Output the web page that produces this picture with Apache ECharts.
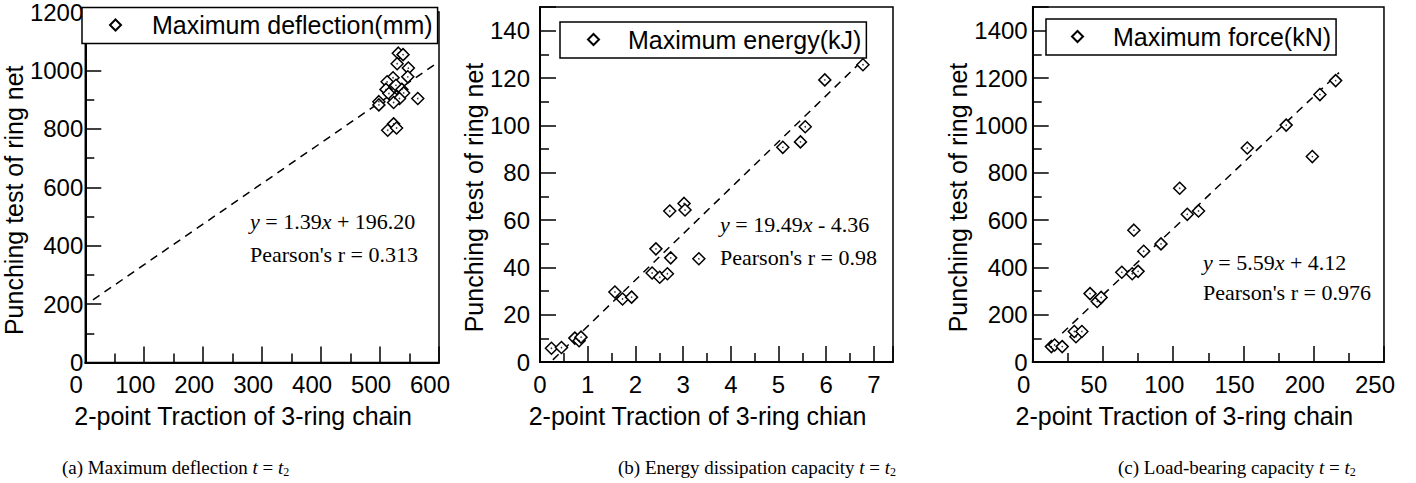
<!DOCTYPE html>
<html>
<head>
<meta charset="utf-8">
<script src="https://cdn.jsdelivr.net/npm/echarts@6/dist/echarts.min.js"></script>
<style>
html,body{margin:0;padding:0;background:#fff;}
#c{width:1416px;height:483px;}
</style>
</head>
<body>
<div id="c"></div>
<script>
// ---- data ----
const deflX = [531, 539, 529, 548, 547, 522, 512, 527, 510, 537, 515, 540, 525, 533, 564, 498, 498, 523, 523, 513, 528];
const deflY = [1059, 1054, 1023, 1008, 978, 975, 961, 949, 935, 935, 921, 923, 904, 904, 904, 893, 882, 890, 817, 795, 803];

const energyX = [0.24, 0.45, 0.73, 0.82, 0.86, 1.57, 1.73, 1.92, 2.35, 2.43, 2.51, 2.67, 2.72, 2.74, 3.02, 3.04, 3.33, 5.09, 5.46, 5.56, 5.97, 6.77];
const energyY = [5.8, 6.1, 10.1, 9.0, 10.5, 29.6, 26.6, 27.4, 37.6, 47.8, 35.8, 37.3, 63.8, 44.0, 67.0, 64.2, 43.6, 90.7, 93.0, 99.4, 119.2, 125.6];

const forceX = [13.3, 15.6, 21, 30.8, 29.6, 35, 40.8, 45.9, 48.7, 63.4, 70.8, 75, 72, 79, 91.3, 104.6, 110, 118, 152.7, 180.4, 204.4, 215.6, 199];
const forceY = [65, 72, 65, 107, 129, 129, 289, 256, 273, 379, 373, 383, 557, 468, 499, 734, 624, 638, 904, 1001, 1130, 1189, 868];

// fitted lines: [slope, intercept], drawn over x range
const fitA = [1.39, 196.20]; const fitRangeA = [13, 600];
const fitB = [19.49, -4.36]; const fitRangeB = [0.27, 6.8];
const fitC = [5.59, 4.12];  const fitRangeC = [21, 218];

const seriesNames = ['Maximum deflection(mm)', 'Maximum energy(kJ)', 'Maximum force(kN)'];
const xTitles = ['2-point Traction of 3-ring chain', '2-point Traction of 3-ring chian', '2-point Traction of 3-ring chain'];
const yTitle = 'Punching test of ring net';
const eqTexts = [
  ['{i|y} = 1.39{i|x} + 196.20', "Pearson's r = 0.313"],
  ['{i|y} = 19.49{i|x} - 4.36', "Pearson's r = 0.98"],
  ['{i|y} = 5.59{i|x} + 4.12', "Pearson's r = 0.976"]
];
const captions = [
  '(a) Maximum deflection {i|t} = {i|t}{s|2}',
  '(b) Energy dissipation capacity {i|t} = {i|t}{s|2}',
  '(c) Load-bearing capacity {i|t} = {i|t}{s|2}'
];

// ---- build ----
const SANS = '"Liberation Sans", Arial, sans-serif';
const SERIF = '"Liberation Serif", "Times New Roman", serif';
const zip = (xs, ys) => xs.map((x, i) => [x, ys[i]]);
const fitLine = (f, r) => [[r[0], f[0] * r[0] + f[1]], [r[1], f[0] * r[1] + f[1]]];

const grids = [
  {left: 82, top: 7.5, width: 357, height: 355},
  {left: 540, top: 7, width: 353, height: 355},
  {left: 1032.7, top: 7, width: 357.3, height: 355}
];

function xAxis(i, max, interval, shiftLabel, nameShift) {
  return {
    type: 'value', gridIndex: i, min: 0, max: max, interval: interval,
    name: xTitles[i], nameLocation: 'middle', nameGap: 41,
    nameTextStyle: {fontFamily: SANS, fontSize: 25, color: '#000', padding: [0, nameShift, 0, 0]},
    axisLine: {show: true, onZero: false, lineStyle: {color: '#000', width: 2}},
    axisTick: {show: true, inside: true, length: 16, lineStyle: {color: '#000', width: 1.5}},
    minorTick: {show: true, splitNumber: 2, length: 9, lineStyle: {color: '#000', width: 1.5}},
    splitLine: {show: false}, minorSplitLine: {show: false},
    axisLabel: {fontFamily: SANS, fontSize: 24, lineHeight: 22, color: '#000', margin: 11,
      showMaxLabel: Number.isInteger(max / interval),
      formatter: v => shiftLabel ? String(v) + '{sp|}' : String(v),
      rich: {sp: {width: shiftLabel}}}
  };
}
function yAxis(i, max, interval, margin, gap) {
  return {
    type: 'value', gridIndex: i, min: 0, max: max, interval: interval,
    name: yTitle, nameLocation: 'middle', nameGap: gap,
    nameTextStyle: {fontFamily: SANS, fontSize: 25, color: '#000', padding: [0, 26, 0, 0]},
    axisLine: {show: true, onZero: false, lineStyle: {color: '#000', width: 2}},
    axisTick: {show: true, inside: true, length: 16, lineStyle: {color: '#000', width: 1.5}},
    minorTick: {show: true, splitNumber: 2, length: 9, lineStyle: {color: '#000', width: 1.5}},
    splitLine: {show: false}, minorSplitLine: {show: false},
    axisLabel: {fontFamily: SANS, fontSize: 24, lineHeight: 20, color: '#000', margin: margin,
      showMaxLabel: Number.isInteger(max / interval), formatter: v => String(v)}
  };
}

function scatter(i, xs, ys) {
  return [{
    name: seriesNames[i], type: 'scatter', xAxisIndex: i, yAxisIndex: i,
    symbol: 'diamond', symbolSize: 12, data: zip(xs, ys),
    itemStyle: {color: '#fff', borderColor: '#000', borderWidth: 1.5, opacity: 1},
    emphasis: {disabled: true}, z: 3
  }, {
    name: seriesNames[i] + ' centre', type: 'scatter', xAxisIndex: i, yAxisIndex: i,
    symbol: 'circle', symbolSize: 1.6, data: zip(xs, ys), silent: true,
    itemStyle: {color: '#000'}, z: 4
  }];
}
function fitSeries(i, f, r) {
  return {
    name: seriesNames[i] + ' fit', type: 'line', xAxisIndex: i, yAxisIndex: i,
    data: fitLine(f, r), symbol: 'none', silent: true, z: 2,
    lineStyle: {color: '#000', width: 1.5, type: [8, 6]}
  };
}
function legend(i, left, top, padL, textPadL) {
  return {
    data: [seriesNames[i]], left: left, top: top, orient: 'horizontal',
    padding: [5, 5, 6, padL], itemWidth: 11, itemHeight: 11,
    backgroundColor: '#fff', borderColor: '#000', borderWidth: 1.5, borderRadius: 0,
    selectedMode: false,
    textStyle: {fontFamily: SANS, fontSize: 25, color: '#000', padding: [0, 0, 0, textPadL]}
  };
}

const graphics = [];
const eqPos = [[250, 222, 255], [720, 225, 258], [1203, 263, 293]];
eqTexts.forEach((t, i) => {
  const [x, y1, y2] = eqPos[i];
  [[t[0], y1], [t[1], y2]].forEach(([txt, y]) => {
    graphics.push({
      type: 'text', left: x, top: y - 12, z: 10,
      style: {text: txt, fontFamily: SERIF, fontSize: 22, fill: '#000',
        rich: {i: {fontFamily: SERIF, fontSize: 22, fontStyle: 'italic', fill: '#000'}}}
    });
  });
});
const capPos = [62, 618, 1118];
captions.forEach((c, i) => {
  graphics.push({
    type: 'text', left: capPos[i], top: 458, z: 10,
    style: {text: c, fontFamily: SERIF, fontSize: 19, fill: '#000',
      rich: {i: {fontFamily: SERIF, fontSize: 19, fontStyle: 'italic', fill: '#000'},
             s: {fontFamily: SERIF, fontSize: 12, fill: '#000', padding: [8, 0, 0, 0]}}}
  });
});

const option = {
  animation: false,
  backgroundColor: '#fff',
  grid: grids.map(g => Object.assign({show: true, borderColor: '#000', borderWidth: 1.5, backgroundColor: 'transparent'}, g)),
  xAxis: [xAxis(0, 600, 100, 18, 38), xAxis(1, 7.4, 1, 0, 38), xAxis(2, 250, 50, 18, 48)],
  yAxis: [yAxis(0, 1200, 200, 2, 50), yAxis(1, 150, 20, 10, 54), yAxis(2, 1500, 200, 5, 55)],
  legend: [legend(0, 82, 7.5, 27, 26), legend(1, 560, 22, 27, 24), legend(2, 1046, 19, 25, 25)],
  series: [].concat(
    scatter(0, deflX, deflY), [fitSeries(0, fitA, fitRangeA)],
    scatter(1, energyX, energyY), [fitSeries(1, fitB, fitRangeB)],
    scatter(2, forceX, forceY), [fitSeries(2, fitC, fitRangeC)]
  ),
  graphic: graphics
};

const chart = echarts.init(document.getElementById('c'), null, {renderer: 'svg'});
chart.setOption(option);
</script>
</body>
</html>
